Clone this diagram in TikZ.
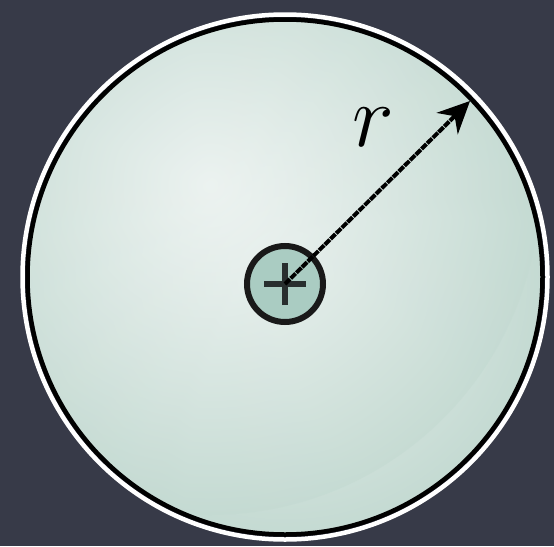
\documentclass[tikz,border=0pt]{standalone}
\usetikzlibrary{arrows.meta}
\definecolor{bgcol}{RGB}{55,58,72}
\definecolor{fillin}{RGB}{236,242,240}
\definecolor{fillout}{RGB}{196,218,210}
\definecolor{chargefill}{RGB}{170,204,194}
\definecolor{plusdark}{RGB}{40,46,46}
\tikzset{
  ringwhite/.style={draw=white, line width=4.5pt},
  ringblack/.style={draw=black, line width=4.5pt},
  chargebox/.style={circle, draw=black!90, line width=6pt, fill=chargefill, minimum size=76pt, inner sep=0pt},
  radiusarrow/.style={line width=4pt, dash pattern=on 7pt off 1pt, -{Stealth[length=32pt, width=30pt]}},
}
\begin{document}
\begin{tikzpicture}[x=1pt, y=-1pt]
  \useasboundingbox (0,0) rectangle (554,546);
  \fill[bgcol] (0,0) rectangle (554,546);
  \shade[inner color=fillin, outer color=fillout, shading=radial]
    (285,277) circle (258);
  \begin{scope}
    \clip (285,277) circle (258);
    \shade[inner color=fillin!60!white, outer color=fillout, shading=radial, opacity=0.7]
      (210,185) circle (330);
  \end{scope}
  \draw[ringwhite] (285,277) circle (262.5);
  \draw[ringblack] (285,277) circle (257.5);
  \node[chargebox] (q) at (285,284) {};
  \draw[plusdark, line width=5.5pt] ([xshift=-21pt]q.center) -- ([xshift=21pt]q.center);
  \draw[plusdark, line width=5.5pt] ([yshift=-21pt]q.center) -- ([yshift=21pt]q.center);
  \coordinate (tip) at (470,101);
  \draw[radiusarrow] (q.center) -- (tip);
  \node[font=\huge, scale=4.3, inner sep=0pt] (rlabel) at (373,127) {$r$};
\end{tikzpicture}
\end{document}
